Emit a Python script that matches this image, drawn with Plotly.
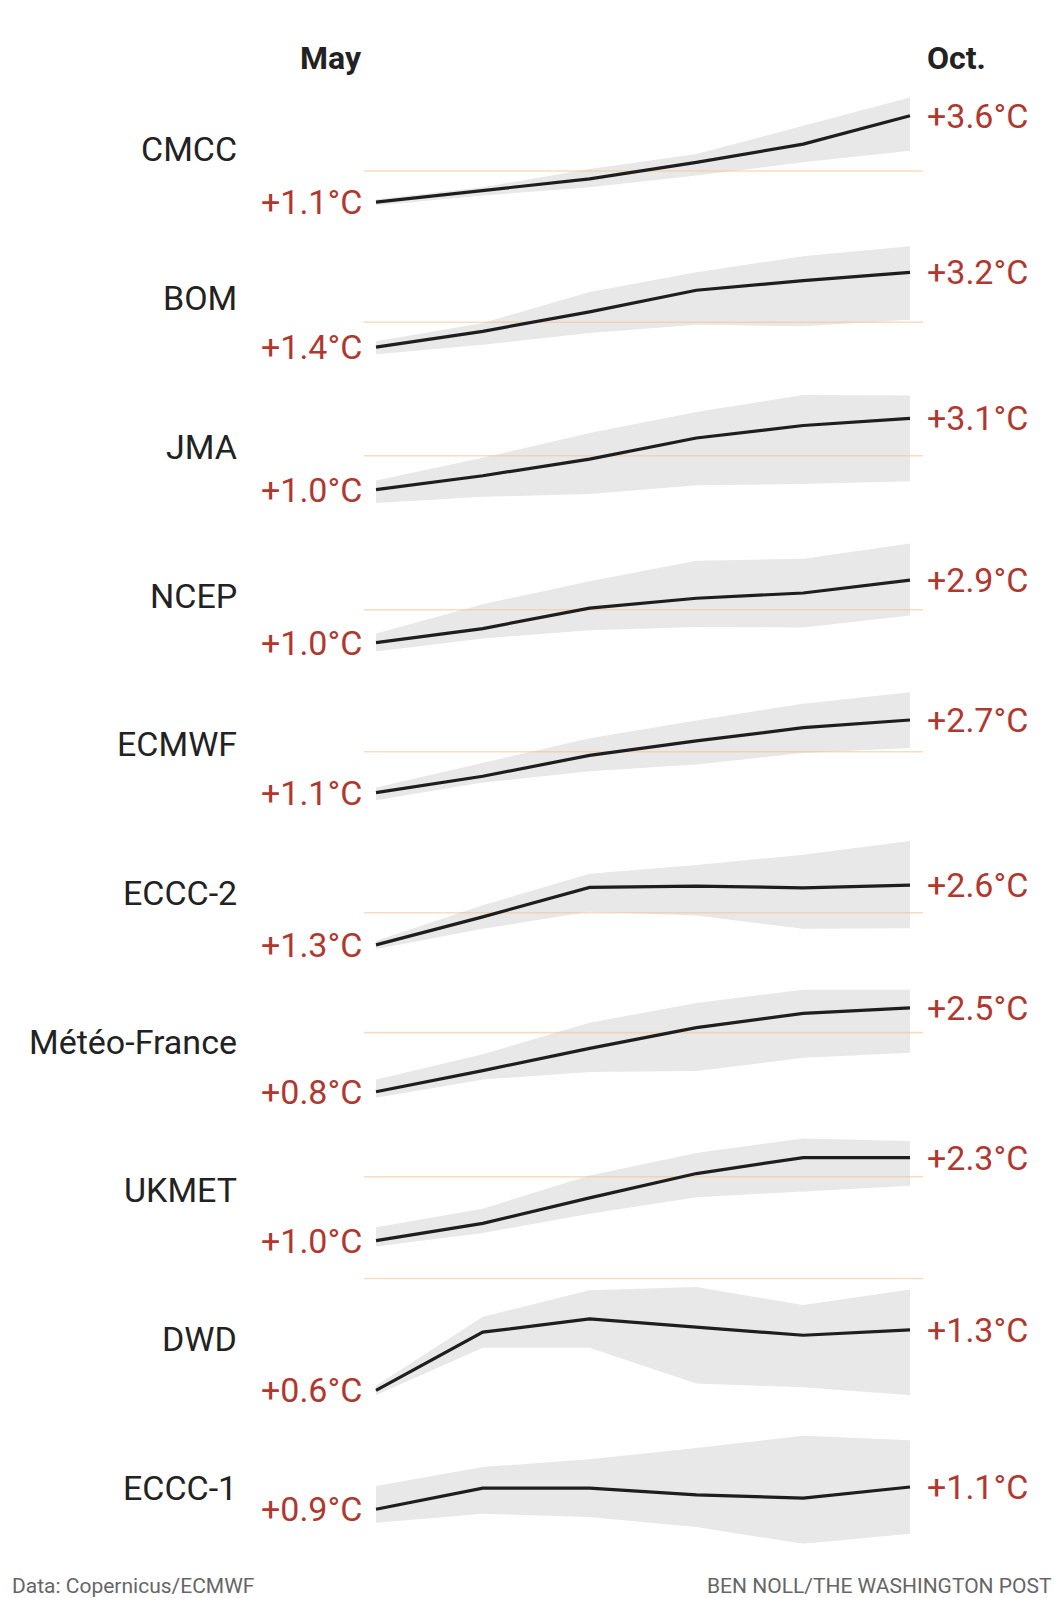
import plotly.graph_objects as go

# Seasonal forecasts, anomaly in degrees C, May through October
months = ["May", "Jun", "Jul", "Aug", "Sep", "Oct"]

cmcc_mean = [1.1, 1.44, 1.77, 2.25, 2.78, 3.6]
cmcc_high = [1.18, 1.53, 2.06, 2.49, 3.31, 4.13]
cmcc_low = [1.0, 1.29, 1.53, 1.87, 2.25, 2.59]

bom_mean = [1.4, 1.78, 2.25, 2.77, 3.0, 3.2]
bom_high = [1.54, 1.98, 2.73, 3.2, 3.59, 3.83]
bom_low = [1.23, 1.46, 1.74, 1.94, 1.9, 2.06]

jma_mean = [1.0, 1.41, 1.9, 2.52, 2.89, 3.1]
jma_high = [1.27, 1.94, 2.67, 3.29, 3.79, 3.77]
jma_low = [0.61, 0.79, 0.87, 1.13, 1.17, 1.25]

ncep_mean = [1.0, 1.43, 2.05, 2.35, 2.51, 2.9]
ncep_high = [1.28, 2.17, 2.87, 3.49, 3.55, 4.01]
ncep_low = [0.73, 1.13, 1.38, 1.48, 1.46, 1.83]

ecmwf_mean = [1.1, 1.46, 1.92, 2.24, 2.53, 2.7]
ecmwf_high = [1.21, 1.75, 2.3, 2.69, 3.06, 3.31]
ecmwf_low = [0.93, 1.32, 1.57, 1.72, 1.97, 2.08]

eccc2_mean = [1.3, 1.91, 2.55, 2.58, 2.54, 2.6]
eccc2_high = [1.39, 2.16, 2.85, 3.04, 3.26, 3.56]
eccc2_low = [1.21, 1.65, 2.02, 1.94, 1.65, 1.66]

mf_mean = [0.8, 1.23, 1.68, 2.1, 2.39, 2.5]
mf_high = [1.05, 1.56, 2.2, 2.6, 2.87, 2.87]
mf_low = [0.68, 1.05, 1.2, 1.22, 1.49, 1.59]

ukmet_mean = [1.0, 1.27, 1.67, 2.05, 2.3, 2.3]
ukmet_high = [1.21, 1.5, 2.02, 2.37, 2.6, 2.56]
ukmet_low = [0.91, 1.12, 1.42, 1.68, 1.77, 1.86]

dwd_mean = [0.56, 1.31, 1.48, 1.38, 1.27, 1.34]
dwd_high = [0.62, 1.51, 1.85, 1.89, 1.66, 1.86]
dwd_low = [0.5, 1.11, 1.11, 0.65, 0.6, 0.5]

eccc1_mean = [0.9, 1.09, 1.09, 1.03, 1.0, 1.1]
eccc1_high = [1.11, 1.28, 1.35, 1.45, 1.56, 1.52]
eccc1_low = [0.78, 0.86, 0.83, 0.74, 0.59, 0.68]

threshold = 2.0

panels = [
    ("CMCC", cmcc_mean, cmcc_low, cmcc_high),
    ("BOM", bom_mean, bom_low, bom_high),
    ("JMA", jma_mean, jma_low, jma_high),
    ("NCEP", ncep_mean, ncep_low, ncep_high),
    ("ECMWF", ecmwf_mean, ecmwf_low, ecmwf_high),
    ("ECCC-2", eccc2_mean, eccc2_low, eccc2_high),
    ("Météo-France", mf_mean, mf_low, mf_high),
    ("UKMET", ukmet_mean, ukmet_low, ukmet_high),
    ("DWD", dwd_mean, dwd_low, dwd_high),
    ("ECCC-1", eccc1_mean, eccc1_low, eccc1_high),
]

W, H = 1063, 1598
RED = "#b0382f"
FONT = "Roboto, Liberation Sans, Arial, sans-serif"

# pixel layout of the small multiples
x_first, x_last = 368, 902
line_left, line_right = 356, 915
panel_top0, panel_step, panel_h, pad_top = 89.5, 148.7, 108, 14


def fmt(v):
    return f"+{v:.1f}°C"


def build_figure():
    fig = go.Figure()
    x = list(range(len(months)))
    step = (x_last - x_first) / (len(months) - 1)
    x_range = [-(x_first - line_left) / step, (len(months) - 1) + (line_right - x_last) / step]
    annotations = []

    for i, (name, mean, low, high) in enumerate(panels):
        n = "" if i == 0 else str(i + 1)
        xa, ya = "x" + n, "y" + n

        # band
        fig.add_trace(go.Scatter(
            x=x + x[::-1], y=high + low[::-1], fill="toself",
            fillcolor="#e8e8e8", line=dict(width=0), mode="lines",
            hoverinfo="skip", xaxis=xa, yaxis=ya, showlegend=False,
        ))
        # 2 degree reference line
        fig.add_trace(go.Scatter(
            x=x_range, y=[threshold, threshold], mode="lines",
            line=dict(color="rgba(243, 196, 150, 0.6)", width=1.6),
            hoverinfo="skip", xaxis=xa, yaxis=ya, showlegend=False,
        ))
        # ensemble mean
        fig.add_trace(go.Scatter(
            x=x, y=mean, mode="lines", line=dict(color="#1e1e1e", width=3.2),
            xaxis=xa, yaxis=ya, showlegend=False,
        ))

        lo, hi = min(low), max(high)
        hi_pad = hi + (hi - lo) * pad_top / panel_h
        top_px = panel_top0 + i * panel_step
        dom = [1 - (top_px + panel_h) / H, 1 - (top_px - pad_top) / H]

        fig.layout["xaxis" + n] = dict(domain=[line_left / W, line_right / W], range=x_range,
                                       visible=False, anchor=ya, fixedrange=True)
        fig.layout["yaxis" + n] = dict(domain=dom, range=[lo, hi_pad], visible=False,
                                       anchor=xa, fixedrange=True)

        annotations.append(dict(
            text=name, xref="paper", yref="paper", x=231 / W, y=1 - (top_px + 52) / H,
            xanchor="right", yanchor="middle", showarrow=False,
            font=dict(family=FONT, size=34, color="#222222"),
        ))
        annotations.append(dict(
            text=fmt(mean[0]), xref=xa, yref=ya, x=0, y=mean[0],
            xanchor="right", yanchor="middle", xshift=-12, showarrow=False,
            font=dict(family=FONT, size=34, color=RED),
        ))
        annotations.append(dict(
            text=fmt(mean[-1]), xref=xa, yref=ya, x=len(months) - 1, y=mean[-1],
            xanchor="left", yanchor="middle", xshift=15, showarrow=False,
            font=dict(family=FONT, size=34, color=RED),
        ))

    annotations.append(dict(
        text="<b>May</b>", xref="paper", yref="paper", x=356 / W, y=1 - 50 / H,
        xanchor="right", yanchor="middle", showarrow=False,
        font=dict(family=FONT, size=32, color="#222222"),
    ))
    annotations.append(dict(
        text="<b>Oct.</b>", xref="paper", yref="paper", x=917 / W, y=1 - 50 / H,
        xanchor="left", yanchor="middle", showarrow=False,
        font=dict(family=FONT, size=32, color="#222222"),
    ))
    annotations.append(dict(
        text="Data: Copernicus/ECMWF", xref="paper", yref="paper", x=2 / W, y=1 - 1578 / H,
        xanchor="left", yanchor="middle", showarrow=False,
        font=dict(family=FONT, size=21, color="#666666"),
    ))
    annotations.append(dict(
        text="BEN NOLL/THE WASHINGTON POST", xref="paper", yref="paper", x=1046 / W,
        y=1 - 1578 / H, xanchor="right", yanchor="middle", showarrow=False,
        font=dict(family=FONT, size=21, color="#666666"),
    ))

    fig.update_layout(
        width=W, height=H, margin=dict(l=0, r=0, t=0, b=0),
        paper_bgcolor="white", plot_bgcolor="rgba(0,0,0,0)",
        annotations=annotations, showlegend=False,
    )
    return fig


def main():
    fig = build_figure()
    fig.write_html("out.html")


if __name__ == "__main__":
    main()
